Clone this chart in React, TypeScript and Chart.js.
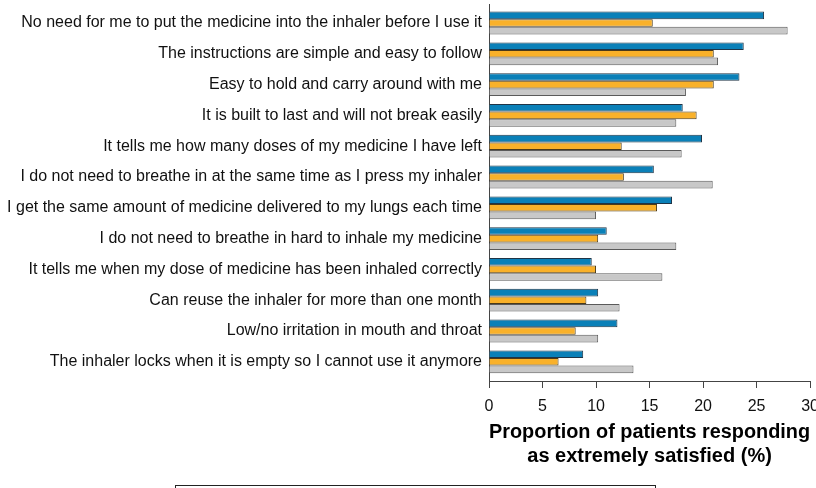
import React, { useEffect, useRef } from "react";
import { Chart, registerables } from "chart.js";

Chart.register(...registerables);

// Inhaler attributes, top to bottom
const attributes: string[] = [
  "No need for me to put the medicine into the inhaler before I use it",
  "The instructions are simple and easy to follow",
  "Easy to hold and carry around with me",
  "It is built to last and will not break easily",
  "It tells me how many doses of my medicine I have left",
  "I do not need to breathe in at the same time as I press my inhaler",
  "I get the same amount of medicine delivered to my lungs each time",
  "I do not need to breathe in hard to inhale my medicine",
  "It tells me when my dose of medicine has been inhaled correctly",
  "Can reuse the inhaler for more than one month",
  "Low/no irritation in mouth and throat",
  "The inhaler locks when it is empty so I cannot use it anymore",
];

// Proportion of patients extremely satisfied (%), one array per inhaler group
const blueValues: number[] = [25.7, 23.8, 23.4, 18.1, 19.9, 15.4, 17.1, 11.0, 9.6, 10.2, 12.0, 8.8];
const orangeValues: number[] = [15.3, 21.0, 21.0, 19.4, 12.4, 12.6, 15.7, 10.2, 10.0, 9.1, 8.1, 6.5];
const grayValues: number[] = [27.9, 21.4, 18.4, 17.5, 18.0, 20.9, 10.0, 17.5, 16.2, 12.2, 10.2, 13.5];

const xTicks: number[] = [0, 5, 10, 15, 20, 25, 30];
const xTitle: string[] = ["Proportion of patients responding", "as extremely satisfied (%)"];

const toPoints = (vals: number[]) => vals.map((v, i) => ({ x: v, y: i }));

// Outlined box under the axis title (legend frame)
const legendFrame = {
  id: "legendFrame",
  afterDraw(chart: any) {
    const { ctx } = chart;
    const xs = chart.scales.x;
    const cx = chart.width / 2 + 1;
    ctx.save();
    ctx.strokeStyle = "#222";
    ctx.lineWidth = 1;
    ctx.strokeRect(Math.round(cx - 240) + 0.5, Math.round(xs.bottom + 8) + 0.5, 480, 60);
    ctx.restore();
  },
};

export default function App() {
  const ref = useRef<HTMLCanvasElement | null>(null);

  useEffect(() => {
    if (!ref.current) return;
    const font = "Arial, 'Liberation Sans', sans-serif";
    const chart = new Chart(ref.current, {
      type: "bar",
      data: {
        datasets: [
          {
            data: toPoints(blueValues) as any,
            backgroundColor: "#0a80b8",
            borderColor: "#1f3446",
            borderWidth: 1,
          },
          {
            data: toPoints(orangeValues) as any,
            backgroundColor: "#f9b12a",
            borderColor: "#4a3a1a",
            borderWidth: 1,
          },
          {
            data: toPoints(grayValues) as any,
            backgroundColor: "#c8c8c8",
            borderColor: "#5a5a5a",
            borderWidth: 1,
          },
        ],
      },
      options: {
        indexAxis: "y",
        responsive: false,
        animation: false,
        layout: { padding: { top: 4, left: 0, right: 0, bottom: 63 } },
        datasets: {
          bar: { categoryPercentage: 0.74, barPercentage: 1 },
        },
        plugins: {
          legend: { display: false },
          tooltip: { enabled: false },
        },
        scales: {
          y: {
            type: "linear",
            reverse: true,
            offset: false,
            min: -0.617,
            max: 11.623,
            grid: { display: false, drawTicks: false, offset: false },
            border: { display: true, color: "#444", width: 1 },
            afterBuildTicks: (s: any) => {
              s.ticks = attributes.map((_, i) => ({ value: i }));
            },
            afterFit: (s: any) => {
              s.width = 489;
              s.paddingTop = 0;
              s.paddingBottom = 0;
            },
            ticks: {
              padding: 7,
              color: "#111",
              font: { family: font, size: 16 },
              callback: (v: any) => attributes[v as number] ?? "",
            },
          },
          x: {
            type: "linear",
            min: 0,
            max: 30,
            afterBuildTicks: (s: any) => {
              s.ticks = xTicks.map((v) => ({ value: v }));
            },
            afterFit: (s: any) => {
              s.height = 96;
            },
            grid: {
              display: true,
              drawOnChartArea: false,
              drawTicks: true,
              tickLength: 7,
              color: "#444",
            },
            border: { display: true, color: "#444", width: 1 },
            ticks: {
              padding: 9,
              color: "#111",
              font: { family: font, size: 16 },
              maxRotation: 0,
            },
            title: {
              display: true,
              text: xTitle,
              color: "#000",
              font: { family: font, size: 20, weight: "bold" },
              padding: { top: 4, bottom: 9 },
            },
          },
        },
      },
      plugins: [legendFrame],
    });
    return () => chart.destroy();
  }, []);

  return (
    <div
      style={{
        position: "fixed",
        left: 0,
        top: 0,
        width: 816,
        height: 488,
        overflow: "hidden",
        background: "#fff",
      }}
    >
      <canvas ref={ref} width={828} height={540} style={{ display: "block" }} />
    </div>
  );
}
